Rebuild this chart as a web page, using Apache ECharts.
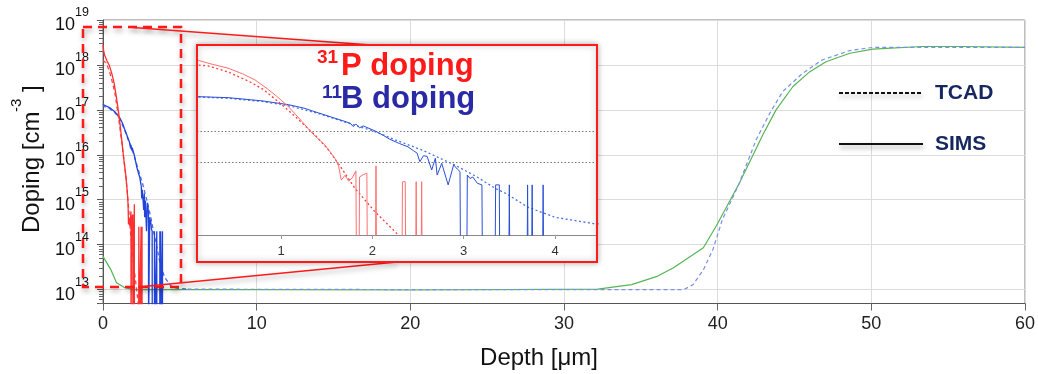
<!DOCTYPE html>
<html>
<head>
<meta charset="utf-8">
<title>Doping profile</title>
<script src="https://cdn.jsdelivr.net/npm/echarts@6/dist/echarts.min.js"></script>
<style>
  html, body { margin: 0; padding: 0; background: #fff; }
  #chart { width: 1038px; height: 374px; }
</style>
</head>
<body>
<div id="chart"></div>
<script>
// depth in µm, doping as log10 of cm^-3
// FLOOR = SIMS reading of zero (sits below the axis and gets clipped)
const FLOOR = 12;
const yDecades = [13, 14, 15, 16, 17, 18, 19];

const pSims = [
    [0, 18.45], [0.04, 18.32], [0.1, 18.22], [0.25, 18.1], [0.42, 17.98], [0.58, 17.8],
    [0.72, 17.6], [0.85, 17.33], [0.95, 17.1], [1.08, 16.77], [1.23, 16.3], [1.34, 15.93],
    [1.48, 15.56], [1.59, 15.14], [1.63, 14.9], [1.66, 14.45], [1.7, 14.6], [1.74, 14.42],
    [1.78, 14.52], [1.82, 14.74], [1.825, FLOOR], [1.855, FLOOR], [1.86, 14.55], [1.9, 14.62],
    [1.94, 14.67], [1.945, FLOOR], [2.035, FLOOR], [2.04, 14.9], [2.045, FLOOR],
    [2.325, FLOOR], [2.33, 14.4], [2.36, 14.4], [2.365, FLOOR], [2.475, FLOOR], [2.48, 14.4],
    [2.485, FLOOR], [2.535, FLOOR], [2.54, 14.4], [2.545, FLOOR]
];
const pTcad = [
    [0, 18.1], [0.2, 18.05], [0.42, 17.86], [0.65, 17.56], [0.8, 17.32], [0.95, 16.97],
    [1.1, 16.6], [1.25, 16.2], [1.38, 15.85], [1.52, 15.4], [1.65, 14.88], [1.81, 14.19],
    [2.03, 13.45], [2.25, 12.82], [2.4, 12.35]
];
const bSims = [
    [0, 17.12], [0.1, 17.08], [0.42, 17.05], [0.79, 16.95], [1.08, 16.83], [1.25, 16.72],
    [1.41, 16.57], [1.55, 16.44], [1.7, 16.3], [1.76, 16.24], [1.79, 16.14], [1.82, 16.22],
    [1.86, 16.1], [1.9, 16.16], [2.03, 16.0], [2.12, 15.86], [2.19, 15.74], [2.3, 15.6],
    [2.39, 15.5], [2.45, 15.38], [2.49, 15.3], [2.52, 15.03], [2.56, 15.22], [2.6, 15.2],
    [2.65, 14.77], [2.69, 15.14], [2.71, 14.61], [2.76, 14.98], [2.83, 14.3], [2.89, 14.93],
    [2.93, 14.8], [2.96, 14.72], [2.965, FLOOR], [3.035, FLOOR], [3.04, 14.61], [3.07, 14.5],
    [3.1, 14.55], [3.15, 14.35], [3.2, 14.3], [3.205, FLOOR], [3.345, FLOOR], [3.35, 14.3],
    [3.37, 14.32], [3.39, 14.3], [3.395, FLOOR], [3.495, FLOOR], [3.5, 14.3], [3.505, FLOOR],
    [3.695, FLOOR], [3.7, 14.3], [3.705, FLOOR], [3.745, FLOOR], [3.75, 14.3], [3.755, FLOOR],
    [3.865, FLOOR], [3.87, 14.3], [3.875, FLOOR]
];
const bTcad = [
    [0, 17.12], [0.1, 17.07], [0.42, 17.03], [0.79, 16.93], [1.08, 16.8], [1.41, 16.55],
    [1.7, 16.28], [2.03, 15.98], [2.25, 15.72], [2.56, 15.38], [2.92, 14.9], [3.14, 14.56],
    [3.34, 14.2], [3.47, 14.02], [3.7, 13.6], [4.0, 13.28], [4.42, 13.08], [4.8, 13.03], [5.5, 13.01]
];
const subSims = [
    [0, 13.74], [0.5, 13.45], [0.88, 13.15], [1.42, 13.04], [2, 13.0], [10, 13.0], [20, 12.99],
    [32.2, 13.01], [34.4, 13.11], [36.1, 13.3], [37.1, 13.48], [39.07, 13.93], [39.9, 14.41],
    [41.4, 15.36], [42.95, 16.45], [43.8, 17.0], [44.9, 17.52], [46.0, 17.85], [47.05, 18.07],
    [48.6, 18.26], [50.1, 18.35], [53.3, 18.41], [55.9, 18.41], [60, 18.39]
];
const subTcad = [
    [5.5, 13.01], [20, 13.0], [37.8, 13.0], [38.4, 13.11], [39.07, 13.44], [39.7, 13.9],
    [40.3, 14.55], [41.4, 15.36], [42.5, 16.33], [43.4, 16.93], [44.24, 17.41], [45.55, 17.82],
    [46.8, 18.11], [48.6, 18.32], [50.1, 18.39], [60, 18.39]
];

const FONT = 'Liberation Sans, Arial, sans-serif';
const RED = '#ff1a1a';

// log minor ticks 2..9 x 10^n
const minorTicks = [];
for (let n = yDecades[0] - 1; n < yDecades[yDecades.length - 1]; n++) {
    for (let k = 2; k <= 9; k++) {
        const v = n + Math.log10(k);
        if (v > 12.69 && v < 19) minorTicks.push(v);
    }
}

function line(name, data, xi, yi, color, width, dash, z) {
    return {
        name: name, type: 'line', data: data, xAxisIndex: xi, yAxisIndex: yi,
        showSymbol: false, symbol: 'none', z: z,
        lineStyle: { color: color, width: width, type: dash || 'solid' }
    };
}

const chart = echarts.init(document.getElementById('chart'));

const shadow = { shadowColor: 'rgba(0,0,0,0.35)', shadowBlur: 5, shadowOffsetX: 1, shadowOffsetY: 3 };

const option = {
    animation: false,
    grid: [
        { left: 103, right: 8, top: 20, bottom: 70.5, show: true, borderColor: '#808080', borderWidth: 1 },
        { left: 197, right: 441, top: 45, bottom: 139 }
    ],
    xAxis: [
        {
            gridIndex: 0, type: 'value', min: 0, max: 60, interval: 10,
            axisLine: { show: true, lineStyle: { color: '#555' } },
            axisTick: { show: true, length: 7, lineStyle: { color: '#666' } },
            axisLabel: { fontSize: 18, color: '#222', margin: 12, fontFamily: FONT },
            splitLine: { show: true, lineStyle: { color: '#dcdcdc' } }
        },
        {
            gridIndex: 1, type: 'value', min: 0.08, max: 4.46, minInterval: 1, maxInterval: 1, z: 5,
            axisLine: { show: true, onZero: false, lineStyle: { color: '#888' } },
            axisTick: { show: true, length: 4, lineStyle: { color: '#999' } },
            axisLabel: { fontSize: 13, color: '#333', margin: 10, fontFamily: FONT, showMinLabel: false, showMaxLabel: false },
            splitLine: { show: false }
        }
    ],
    yAxis: [
        {
            gridIndex: 0, type: 'value', min: 12.69, max: 19, minInterval: 1, maxInterval: 1,
            axisLine: { show: true, lineStyle: { color: '#555' } },
            axisTick: { show: true, length: 6, lineStyle: { color: '#555' } },
            axisLabel: {
                margin: 14,
                formatter: function (v) {
                    if (Math.abs(v - Math.round(v)) > 1e-6) return '';
                    return '{b|10}{s|' + Math.round(v) + '}';
                },
                rich: {
                    b: { fontSize: 18, color: '#111', fontFamily: FONT, verticalAlign: 'bottom' },
                    s: { fontSize: 12.5, color: '#111', fontFamily: FONT, verticalAlign: 'top', padding: [0, 0, 15, 0] }
                }
            },
            splitLine: { show: true, lineStyle: { color: '#dcdcdc' } }
        },
        {
            gridIndex: 0, type: 'value', min: 12.69, max: 19, position: 'left',
            axisLine: { show: false },
            axisTick: { show: true, length: 4, customValues: minorTicks, lineStyle: { color: '#666' } },
            axisLabel: { show: false },
            splitLine: { show: false }
        },
        {
            gridIndex: 1, type: 'value', min: 12.72, max: 18.71, show: false
        }
    ],
    series: [
        line('SIMS substrate', subSims, 0, 0, '#55b555', 1.2, null, 2),
        line('TCAD substrate', subTcad, 0, 0, '#7890e8', 1.2, [4, 3], 2),
        line('TCAD B', bTcad, 0, 0, '#4d6fe0', 1.3, [4, 3], 2),
        line('SIMS B', bSims, 0, 0, '#2244dd', 1.3, null, 2),
        line('TCAD P', pTcad, 0, 0, '#ff4040', 1.3, [4, 3], 2),
        line('SIMS P', pSims, 0, 0, '#ff3030', 1.3, null, 2),

        Object.assign(line('inset TCAD B', bTcad, 1, 2, '#4a72e6', 1.3, [2, 2.5], 6), {
            markLine: {
                silent: true, symbol: ['none', 'none'], label: { show: false },
                lineStyle: { color: '#777', type: [1.5, 2], width: 1 },
                data: [{ yAxis: 15 }, { yAxis: 16 }]
            }
        }),
        line('inset SIMS B', bSims, 1, 2, '#2a4fd6', 1, null, 6),
        line('inset TCAD P', pTcad, 1, 2, '#ff3b3b', 1.3, [2, 2.5], 6),
        line('inset SIMS P', pSims, 1, 2, '#ff6f6f', 1, null, 6)
    ],
    graphic: [
        // dashed window on the main plot + connectors
        {
            type: 'rect', z: 3, shape: { x: 83, y: 27, width: 98, height: 260 },
            style: Object.assign({ fill: 'none', stroke: RED, lineWidth: 2.5, lineDash: [9, 6] }, shadow)
        },
        {
            type: 'line', z: 3, shape: { x1: 133, y1: 27.5, x2: 398, y2: 47 },
            style: Object.assign({ stroke: RED, lineWidth: 1.6 }, shadow)
        },
        {
            type: 'line', z: 3, shape: { x1: 138, y1: 287, x2: 397, y2: 262 },
            style: Object.assign({ stroke: RED, lineWidth: 1.6 }, shadow)
        },
        // inset panel
        {
            type: 'rect', z: 4, shape: { x: 197, y: 45, width: 400, height: 217 },
            style: { fill: '#fff', stroke: RED, lineWidth: 2, shadowColor: 'rgba(0,0,0,0.3)', shadowBlur: 6 }
        },
        {
            type: 'rect', z: 8, shape: { x: 197, y: 45, width: 400, height: 217 },
            style: { fill: 'none', stroke: RED, lineWidth: 2 }
        },
        // inset titles
        { type: 'text', z: 9, x: 317, y: 58, style: { text: '31', fill: RED, font: 'bold 19px ' + FONT, verticalAlign: 'middle' } },
        { type: 'text', z: 9, x: 341, y: 66, style: { text: 'P doping', fill: RED, font: 'bold 31px ' + FONT, verticalAlign: 'middle' } },
        { type: 'text', z: 9, x: 322, y: 92.5, style: { text: '11', fill: '#2a2aa6', font: 'bold 19px ' + FONT, verticalAlign: 'middle' } },
        { type: 'text', z: 9, x: 341, y: 99, style: { text: 'B doping', fill: '#2a2aa6', font: 'bold 31px ' + FONT, verticalAlign: 'middle' } },
        // line-style key
        {
            type: 'line', z: 9, shape: { x1: 839, y1: 93, x2: 923, y2: 93 },
            style: Object.assign({ stroke: '#111', lineWidth: 2, lineDash: [4, 2] }, shadow)
        },
        {
            type: 'line', z: 9, shape: { x1: 839, y1: 144, x2: 923, y2: 144 },
            style: Object.assign({ stroke: '#111', lineWidth: 2 }, shadow)
        },
        { type: 'text', z: 9, x: 935, y: 93, style: { text: 'TCAD', fill: '#15275e', font: 'bold 21px ' + FONT, verticalAlign: 'middle' } },
        { type: 'text', z: 9, x: 935, y: 144, style: { text: 'SIMS', fill: '#15275e', font: 'bold 21px ' + FONT, verticalAlign: 'middle' } },
        // axis titles
        { type: 'text', z: 9, x: 539, y: 358, style: { text: 'Depth [μm]', fill: '#111', font: '24px ' + FONT, align: 'center', verticalAlign: 'middle' } },
        { type: 'text', z: 9, x: 32, y: 233, rotation: Math.PI / 2, style: { text: 'Doping [cm', fill: '#111', font: '24px ' + FONT, verticalAlign: 'middle' } },
        { type: 'text', z: 9, x: 17, y: 112, rotation: Math.PI / 2, style: { text: '-3', fill: '#111', font: '15px ' + FONT, verticalAlign: 'middle' } },
        { type: 'text', z: 9, x: 32, y: 92, rotation: Math.PI / 2, style: { text: ']', fill: '#111', font: '24px ' + FONT, verticalAlign: 'middle' } }
    ]
};

chart.setOption(option);
</script>
</body>
</html>
